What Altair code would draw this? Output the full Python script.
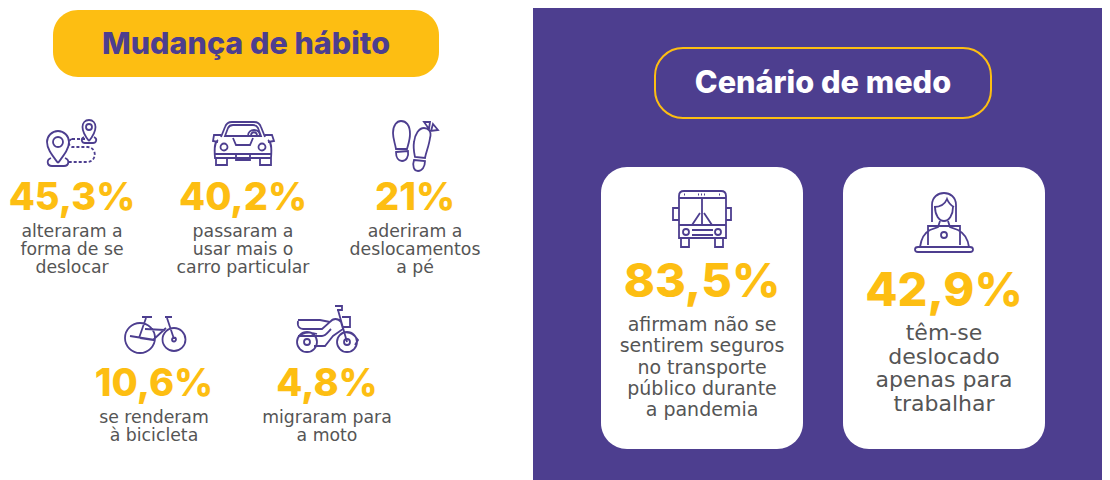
import re
import altair as alt
import pandas as pd

# ---- content ----
title_left = "Mudança de hábito"
title_right = "Cenário de medo"
habit_values = ["45,3%", "40,2%", "21%", "10,6%", "4,8%"]
habit_texts = [
    ["alteraram a", "forma de se", "deslocar"],
    ["passaram a", "usar mais o", "carro particular"],
    ["aderiram a", "deslocamentos", "a pé"],
    ["se renderam", "à bicicleta"],
    ["migraram para", "a moto"],
]
fear_values = ["83,5%", "42,9%"]
fear_texts = [
    ["afirmam não se", "sentirem seguros", "no transporte", "público durante", "a pandemia"],
    ["têm-se", "deslocado", "apenas para", "trabalhar"],
]

# ---- layout (page pixels) ----
PURPLE, YELLOW, GREY = "#4D3E8F", "#FDBE12", "#555555"
habit_cx = [72, 243, 415, 154, 327]
habit_vy = [199, 199, 199, 385, 385]
habit_ty = [232, 232, 232, 418, 418]
fear_cx = [702, 944]
fear_vy = [283, 292]
fear_ty = [325, 333]
fear_step = [21.3, 23.7]
fear_font = [19, 22]

X = alt.X("x:Q", scale=alt.Scale(domain=[8, 1102], nice=False, zero=False), axis=None)
Y = alt.Y("y:Q", scale=alt.Scale(domain=[480, 8], nice=False, zero=False), axis=None)
X2, Y2 = alt.X2("x2:Q"), alt.Y2("y2:Q")


def box(x, x2, y, y2, **kw):
    d = pd.DataFrame({"x": [x], "x2": [x2], "y": [y], "y2": [y2]})
    return alt.Chart(d).mark_rect(**kw).encode(x=X, x2=X2, y=Y, y2=Y2)


def text(rows, weight, color, font="Inter"):
    d = pd.DataFrame(rows, columns=["x", "y", "t", "s"])
    return alt.Chart(d).mark_text(
        font=font, fontWeight=weight, color=color, baseline="middle", align="center"
    ).encode(x=X, y=Y, text="t:N", size=alt.Size("s:Q", scale=None, legend=None))


def circ(cx, cy, r):
    return (f"M{cx-r},{cy} C{cx-r},{cy-r*.55} {cx-r*.55},{cy-r} {cx},{cy-r} "
            f"C{cx+r*.55},{cy-r} {cx+r},{cy-r*.55} {cx+r},{cy} "
            f"C{cx+r},{cy+r*.55} {cx+r*.55},{cy+r} {cx},{cy+r} "
            f"C{cx-r*.55},{cy+r} {cx-r},{cy+r*.55} {cx-r},{cy} Z ")


def local(path, ox, oy):
    """Shift a path drawn in page pixels so that it is relative to its anchor."""
    out, is_x = [], True
    for tok in re.findall(r"[MLCQZ]|-?\d+\.?\d*", path):
        if tok in "MLCQZ":
            out.append(tok)
            is_x = True
        else:
            out.append(f"{float(tok) - (ox if is_x else oy):.2f}")
            is_x = not is_x
    return " ".join(out)


icons = {
    "pin": ((70, 142),
        "M58,163 C52,155 47,149 47,142 C47,136 52,131 58,131 C64,131 69,136 69,142 C69,149 64,155 58,163 "
        + circ(58, 142, 5) +
        "M51,158 C46,160 47,166 52,166 L64,166 C69,166 70,160 65,158 "
        "M89,141 C85,136 82.5,132 82.5,127 C82.5,123 85,120 89,120 C93,120 95.5,123 95.5,127 C95.5,132 93,136 89,141 "
        + circ(89, 127, 3) +
        "M84,137 C80,139 82,143 85,143 L93,143 C96,143 98,139 94,137 "),
    "car": ((243, 143),
        "M221,137 L225,127 C226,124 228,122 232,122 L254,122 C258,122 260,124 261,127 L265,137 "
        "M225,136 L228,128 C229,126 230,125 233,125 L253,125 C256,125 257,126 258,128 L261,136 Z "
        "M248,136 C248,128 260,128 260,136 M251,136 C251,131 257,131 257,136 "
        "M221,135 L214,135 L213,141 L218,142 M265,135 L272,135 L274,141 L268,142 "
        "M218,140 C215,142 214,146 215,158 L271,158 C272,146 271,142 268,140 "
        "M233,138 L236,145 L250,145 L253,138 "
        + circ(224, 147, 3.5) + circ(262, 147, 3.5) +
        "M215,154 L271,154 M216,158 L216,165 L227,165 L227,158 M260,158 L260,165 L271,165 L271,158 "
        "M236,154 L236,160 L250,160 L250,154"),
    "feet": ((415, 146),
        "M393,133 C393,125 397,121 401,121 C406,121 410,125 410,134 C410,140 408,145 407,149 L396,149 C395,143 393,139 393,133 Z "
        "M396,152 L408,151 C409,157 406,161 402,161 C398,161 396,157 396,152 Z "
        "M430,138 C432,131 428,128 424,128 C419,128 415,134 414,142 C413,148 414,152 415,157 L425,158 C426,152 429,146 430,138 Z "
        "M414,160 L425,161 C425,167 422,171 418,171 C414,171 412,166 414,160 Z "
        "M424,122 L430,122 L429,129 Z M433,124 L438,130 L431,131 Z"),
    "bike": ((155, 335),
        circ(140, 338, 15) + circ(174, 339.5, 11.5) + circ(174, 339.5, 2) +
        "M142,317 L152,317 M165,317 L172,317 M146,318 L139,338 M145,329 L165,330 "
        "M167,318 L174,339 M166,328 L153,340 L140,338 M130,336 L155,340"),
    "moto": ((327, 328),
        circ(307, 342, 10) + circ(307, 342, 3) + circ(347, 342, 10) + circ(347, 342, 3) +
        "M298,321 C297,327 300,329 303,329 L322,329 L330,322 C333,318 338,318 341,322 L343,329 L333,336 L325,346 L314,346 "
        "M298,320 L320,320 L330,322 M335,306 L342,306 L342,310 L337,310 M338,310 L347,342 "
        "M342,317 L350,317 L350,327 L342,327 M298,336 L322,336 C326,336 328,332 331,329 "
        "M340,335 C346,329 354,334 358,340 L355,345 M297,342 C297,335 305,330 317,334"),
    "bus": ((702, 219),
        "M679,196 C679,193 681,191 684,191 L721,191 C724,191 726,193 726,196 L726,238 L679,238 Z "
        "M679,198 L726,198 M679,225 L726,225 M702,198 L702,225 "
        "M679,208 L673,208 L673,220 L679,220 M726,208 L731,208 L731,220 L726,220 "
        "M681,238 L681,247 L689,247 L689,238 M715,238 L715,247 L723,247 L723,238 "
        + circ(686, 232, 3) + circ(718, 232, 3) +
        "M692,230 L713,230 M692,235 L713,235 M692,225 L700,213 M712,225 L704,213 "
        "M684,194.5 L685,194.5 M698,194.5 L699,194.5 M701,194.5 L702,194.5 M704,194.5 L705,194.5 M719,194.5 L720,194.5"),
    "person": ((944, 222),
        "M932,222 L932,205 C932,197 938,193 944,193 C950,193 956,197 956,205 L956,222 "
        "M934,207 C940,207 945,204 947,199 C949,204 952,206 954,207 "
        "M935,207 C935,215 939,221 944,221 C949,221 953,215 953,207 "
        "M940,221 L938,227 L930,230 C924,233 921,240 920,247 "
        "M948,221 L950,227 L958,230 C964,233 968,240 969,247 "
        "M928,245 L928,226 L960,226 L960,245 "
        + circ(944, 235, 3) +
        "M918,247 L970,247 C974,247 974,252 970,252 L918,252 C914,252 914,247 918,247 Z"),
}
dashed = ((82, 150), "M72,139 C68,140 68,146 72,147 L88,147 C97,148 97,161 88,162 L69,162 M72,139 L87,139")

icon_df = pd.DataFrame(
    [{"x": a[0], "y": a[1], "p": local(p, *a)} for a, p in icons.values()]
)
dash_df = pd.DataFrame([{"x": dashed[0][0], "y": dashed[0][1], "p": local(dashed[1], *dashed[0])}])

icon_layer = alt.Chart(icon_df).mark_point(
    filled=False, size=4, stroke=PURPLE, strokeWidth=1.8, opacity=1
).encode(x=X, y=Y, shape=alt.Shape("p:N", scale=None, legend=None))
dash_layer = alt.Chart(dash_df).mark_point(
    filled=False, size=4, stroke=PURPLE, strokeWidth=1.8, opacity=1, strokeDash=[3, 2]
).encode(x=X, y=Y, shape=alt.Shape("p:N", scale=None, legend=None))

num_rows, body_rows = [], []
for v, lines, cx, vy, ty in zip(habit_values, habit_texts, habit_cx, habit_vy, habit_ty):
    num_rows.append((cx, vy, v, 38))
    for i, line in enumerate(lines):
        body_rows.append((cx, ty + i * 18.2, line, 17.3))
for v, lines, cx, vy, ty, st, fs, ns in zip(fear_values, fear_texts, fear_cx, fear_vy, fear_ty,
                                           fear_step, fear_font, [47, 47]):
    num_rows.append((cx, vy, v, ns))
    for i, line in enumerate(lines):
        body_rows.append((cx, ty + i * st, line, fs))

chart = alt.layer(
    box(533, 1110, 5, 480, color=PURPLE),
    box(53, 439, 10, 77, color=YELLOW, cornerRadius=25),
    box(655, 991, 48, 118, color=PURPLE, stroke=YELLOW, strokeWidth=2, cornerRadius=28),
    box(601, 803, 167, 449, color="white", cornerRadius=26),
    box(843, 1045, 167, 449, color="white", cornerRadius=26),
    text([(246, 45, title_left, 30.5)], 800, PURPLE),
    text([(823, 84, title_right, 30.7)], 800, "white"),
    text(num_rows, 800, YELLOW),
    text(body_rows, 400, GREY, font="DejaVu Sans"),
    icon_layer,
    dash_layer,
).properties(
    width=1094, height=472, padding=0, background="white",
    autosize=alt.AutoSizeParams(type="none"),
).configure_view(stroke=None)

chart.save("out.html", embed_options={"renderer": "svg", "actions": False})
